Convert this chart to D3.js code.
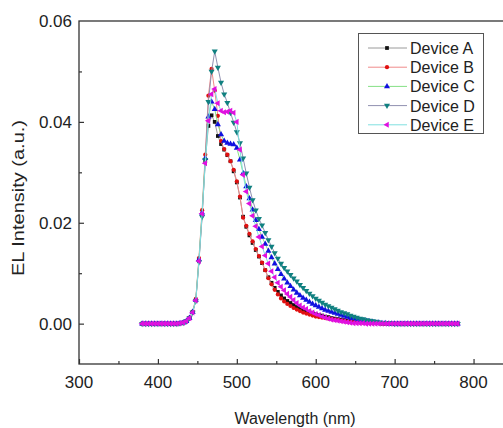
<!DOCTYPE html>
<html>
<head>
<meta charset="utf-8">
<script src="https://cdn.jsdelivr.net/npm/d3@7"></script>
<style>
  body { margin: 0; background: #fff; }
  svg { display: block; font-family: "Liberation Sans", Arial, sans-serif; }
</style>
</head>
<body>
<svg width="503" height="428"></svg>
<script>
// wavelength grid (nm)
var wavelength = [
  380,384,388,392,396,400,404,408,412,416,
  420,424,428,432,436,440,444,448,452,456,
  460,464,468,472,476,480,484,488,492,496,
  500,504,508,512,516,520,524,528,532,536,
  540,544,548,552,556,560,564,568,572,576,
  580,584,588,592,596,600,604,608,612,616,
  620,624,628,632,636,640,644,648,652,656,
  660,664,668,672,676,680,684,688,692,696,
  700,704,708,712,716,720,724,728,732,736,
  740,744,748,752,756,760,764,768,772,776,
  780];

var deviceA = [
  0,0,0,0,0,0,0,0,0,0,
  0,0,0.0001,0.0002,0.0005,0.0011,0.0023,0.0046,0.0125,0.0215,
  0.0322,0.0392,0.0413,0.0400,0.0372,0.0356,0.0345,0.0334,0.0322,0.0302,
  0.0280,0.0250,0.0212,0.0192,0.0175,0.0160,0.0146,0.0133,0.0120,0.0106,
  0.0092,0.0081,0.0071,0.0063,0.0056,0.0050,0.0045,0.0041,0.0037,0.0033,
  0.0030,0.0027,0.0025,0.0023,0.0021,0.0019,0.0017,0.0016,0.0014,0.0013,
  0.0011,0.0010,0.0009,0.0008,0.0007,0.0006,0.0005,0.0004,0.0004,0.0003,
  0.0003,0.0002,0.0002,0.0001,0.0001,0.0001,0,0,0,0,
  0,0,0,0,0,0,0,0,0,0,
  0,0,0,0,0,0,0,0,0,0,
  0];

var deviceB = [
  0,0,0,0,0,0,0,0,0,0,
  0,0,0.0001,0.0002,0.0005,0.0012,0.0024,0.0049,0.0130,0.0225,
  0.0335,0.0452,0.0505,0.0462,0.0412,0.0362,0.0346,0.0335,0.0322,0.0305,
  0.0282,0.0252,0.0210,0.0194,0.0178,0.0163,0.0148,0.0134,0.0121,0.0106,
  0.0090,0.0078,0.0067,0.0058,0.0050,0.0044,0.0039,0.0035,0.0031,0.0028,
  0.0025,0.0022,0.0020,0.0018,0.0016,0.0014,0.0013,0.0012,0.0011,0.0010,
  0.0009,0.0008,0.0007,0.0006,0.0005,0.0004,0.0003,0.0003,0.0003,0.0002,
  0.0002,0.0002,0.0001,0.0001,0.0001,0.0001,0,0,0,0,
  0,0,0,0,0,0,0,0,0,0,
  0,0,0,0,0,0,0,0,0,0,
  0];

var deviceC = [
  0,0,0,0,0,0,0,0,0,0,
  0,0,0.0001,0.0002,0.0005,0.0011,0.0023,0.0047,0.0127,0.0220,
  0.0328,0.0410,0.0440,0.0425,0.0395,0.0375,0.0362,0.0358,0.0356,0.0355,
  0.0348,0.0325,0.0298,0.0272,0.0248,0.0226,0.0205,0.0187,0.0172,0.0158,
  0.0144,0.0131,0.0119,0.0108,0.0098,0.0089,0.0081,0.0074,0.0067,0.0061,
  0.0056,0.0051,0.0047,0.0043,0.0039,0.0036,0.0033,0.0030,0.0027,0.0025,
  0.0023,0.0021,0.0019,0.0017,0.0015,0.0013,0.0011,0.0010,0.0008,0.0007,
  0.0006,0.0005,0.0004,0.0003,0.0002,0.0002,0.0001,0.0001,0,0,
  0,0,0,0,0,0,0,0,0,0,
  0,0,0,0,0,0,0,0,0,0,
  0];

var deviceD = [
  0,0,0,0,0,0,0,0,0,0,
  0,0,0.0001,0.0002,0.0005,0.0011,0.0022,0.0045,0.0122,0.0212,
  0.0325,0.0440,0.0500,0.0540,0.0508,0.0478,0.0455,0.0438,0.0418,0.0399,
  0.0380,0.0358,0.0328,0.0298,0.0270,0.0245,0.0225,0.0208,0.0195,0.0180,
  0.0166,0.0153,0.0140,0.0129,0.0119,0.0111,0.0104,0.0097,0.0090,0.0084,
  0.0077,0.0071,0.0065,0.0060,0.0055,0.0050,0.0046,0.0042,0.0038,0.0035,
  0.0032,0.0029,0.0026,0.0023,0.0021,0.0019,0.0016,0.0014,0.0012,0.0010,
  0.0009,0.0007,0.0006,0.0005,0.0004,0.0003,0.0002,0.0002,0.0001,0.0001,
  0,0,0,0,0,0,0,0,0,0,
  0,0,0,0,0,0,0,0,0,0,
  0];

var deviceE = [
  0,0,0,0,0,0,0,0,0,0,
  0,0,0.0001,0.0002,0.0005,0.0011,0.0022,0.0046,0.0124,0.0218,
  0.0318,0.0402,0.0455,0.0465,0.0437,0.0422,0.0419,0.0420,0.0422,0.0418,
  0.0400,0.0345,0.0295,0.0262,0.0238,0.0214,0.0193,0.0172,0.0153,0.0135,
  0.0119,0.0104,0.0092,0.0081,0.0073,0.0066,0.0059,0.0053,0.0047,0.0041,
  0.0036,0.0032,0.0029,0.0025,0.0022,0.0019,0.0017,0.0014,0.0012,0.0010,
  0.0008,0.0007,0.0006,0.0005,0.0004,0.0003,0.0002,0.0001,0.0001,0.0001,
  0.0001,0,0,0,0,0,0,0,0,0,
  0,0,0,0,0,0,0,0,0,0,
  0,0,0,0,0,0,0,0,0,0,
  0];

var seriesNames = ["Device A", "Device B", "Device C", "Device D", "Device E"];
var xTicks = [300, 400, 500, 600, 700, 800];
var yTicks = [0.00, 0.02, 0.04, 0.06];

var series = [
  {name: seriesNames[0], values: deviceA, line: "#9a9a9a", mark: "#111111", sym: d3.symbolSquare, rot: 0, size: 14},
  {name: seriesNames[1], values: deviceB, line: "#f08a8a", mark: "#e01010", sym: d3.symbolCircle, rot: 0, size: 14},
  {name: seriesNames[2], values: deviceC, line: "#86e086", mark: "#1010e0", sym: d3.symbolTriangle, rot: 0, size: 16},
  {name: seriesNames[3], values: deviceD, line: "#9090b0", mark: "#108080", sym: d3.symbolTriangle, rot: 180, size: 16},
  {name: seriesNames[4], values: deviceE, line: "#80e0e0", mark: "#e010e0", sym: d3.symbolTriangle, rot: -90, size: 16}
];

var svg = d3.select("svg"),
    width = +svg.attr("width"),
    height = +svg.attr("height");

var x = d3.scaleLinear().domain([300, 850]).range([79, 513]);
var y = d3.scaleLinear().domain([-0.008, 0.06]).range([364, 21]);

var axisColor = "#333";

// frame (right side falls outside the picture)
svg.append("rect")
    .attr("x", x(300)).attr("y", y(0.06))
    .attr("width", x(850) - x(300)).attr("height", y(-0.008) - y(0.06))
    .attr("fill", "none").attr("stroke", axisColor).attr("stroke-width", 1.3);

// inward ticks
var xAxis = d3.axisTop(x).tickValues(d3.range(300, 851, 50)).tickSize(5).tickFormat("");
svg.append("g").attr("transform", "translate(0," + y(-0.008) + ")").call(xAxis)
  .call(function(g) {
    g.select(".domain").remove();
    g.selectAll(".tick line").attr("stroke", axisColor).attr("stroke-width", 1.2)
      .attr("y2", function(d) { return d % 100 === 0 ? -5 : -3; });
  });

var yAxis = d3.axisRight(y).tickValues([0, 0.01, 0.02, 0.03, 0.04, 0.05]).tickSize(5).tickFormat("");
svg.append("g").attr("transform", "translate(" + x(300) + ",0)").call(yAxis)
  .call(function(g) {
    g.select(".domain").remove();
    g.selectAll(".tick line").attr("stroke", axisColor).attr("stroke-width", 1.2)
      .attr("x2", function(d) { return Math.round(d * 1000) % 20 === 0 ? 5 : 3; });
  });

// tick labels
svg.append("g").selectAll("text")
  .data(xTicks).enter().append("text")
    .attr("x", function(d) { return x(d); })
    .attr("y", 388)
    .attr("text-anchor", "middle")
    .style("font-size", "17px")
    .attr("fill", "#222")
    .text(function(d) { return d; });

svg.append("g").selectAll("text")
  .data(yTicks).enter().append("text")
    .attr("x", 72)
    .attr("y", function(d) { return y(d) + 6; })
    .attr("text-anchor", "end")
    .style("font-size", "17px")
    .attr("fill", "#222")
    .text(function(d) { return d.toFixed(2); });

// axis titles
svg.append("text")
    .attr("x", 295).attr("y", 424)
    .attr("text-anchor", "middle")
    .style("font-size", "16px")
    .attr("fill", "#222")
    .text("Wavelength (nm)");

svg.append("text")
    .attr("transform", "translate(24,198) rotate(-90) scale(1.25,1)")
    .attr("text-anchor", "middle")
    .style("font-size", "16px")
    .attr("fill", "#222")
    .text("EL Intensity (a.u.)");

// series
var line = d3.line()
    .x(function(d, i) { return x(wavelength[i]); })
    .y(function(d) { return y(d); });

series.forEach(function(s) {
  var g = svg.append("g");
  g.append("path")
      .attr("d", line(s.values))
      .attr("fill", "none")
      .attr("stroke", s.line)
      .attr("stroke-width", 1);
  g.selectAll("path.m")
    .data(s.values).enter().append("path")
      .attr("class", "m")
      .attr("d", d3.symbol().type(s.sym).size(s.size))
      .attr("transform", function(d, i) {
        return "translate(" + x(wavelength[i]) + "," + y(d) + ") rotate(" + s.rot + ")";
      })
      .attr("fill", s.mark);
});

// legend
var legend = svg.append("g");
legend.append("rect")
    .attr("x", 358.5).attr("y", 33.5).attr("width", 125).attr("height", 100)
    .attr("fill", "#fff").attr("stroke", "#555").attr("stroke-width", 1);

var item = legend.selectAll("g.item")
  .data(series).enter().append("g")
    .attr("class", "item")
    .attr("transform", function(d, i) { return "translate(0," + (48 + i * 19.2) + ")"; });

item.append("line")
    .attr("x1", 368).attr("x2", 407).attr("y1", 0).attr("y2", 0)
    .attr("stroke", function(d) { return d.line; }).attr("stroke-width", 1);
item.append("path")
    .attr("d", function(d) { return d3.symbol().type(d.sym).size(d.size)(); })
    .attr("transform", function(d) { return "translate(387,0) rotate(" + d.rot + ")"; })
    .attr("fill", function(d) { return d.mark; });
item.append("text")
    .attr("x", 410).attr("y", 6)
    .style("font-size", "16px")
    .attr("fill", "#222")
    .text(function(d) { return d.name; });
</script>
</body>
</html>
